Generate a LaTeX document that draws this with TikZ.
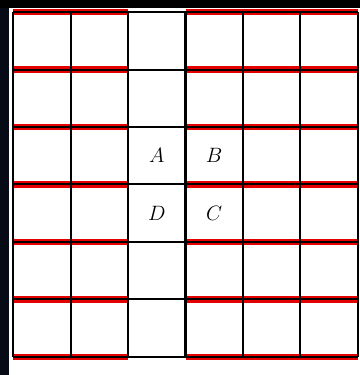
\documentclass[tikz,border=0pt]{standalone}
\definecolor{edgedark}{HTML}{070B16}
\tikzset{
  redline/.style={red!90!black, line width=6.5pt},
  gridline/.style={black, line width=2pt},
  letter/.style={font=\huge}
}
\begin{document}
\begin{tikzpicture}[x=57.4pt, y=57.4pt]
	% canvas and dark edges
	\fill[white] (-0.2265,-0.3136) rectangle (6.028,6.209);
	\fill[edgedark] (-0.2265,-0.3136) rectangle (-0.0697,6.209);
	\fill[black] (-0.2265,6.0697) rectangle (6.028,6.209);
	\useasboundingbox (-0.2265,-0.3136) rectangle (6.028,6.209);
	% red rows, the middle column left out
	\foreach \y in {0,...,6} {
		\draw[redline] (0,\y) -- (2,\y);
		\draw[redline] (3,\y) -- (6,\y);
	}
	\draw[gridline, step=1] (0,0) grid (6,6);
	\node[letter] (A) at (2.5,3.5) {$A$};
	\node[letter] (B) at (3.5,3.5) {$B$};
	\node[letter] (C) at (3.5,2.5) {$C$};
	\node[letter] (D) at (2.5,2.5) {$D$};
\end{tikzpicture}
\end{document}
